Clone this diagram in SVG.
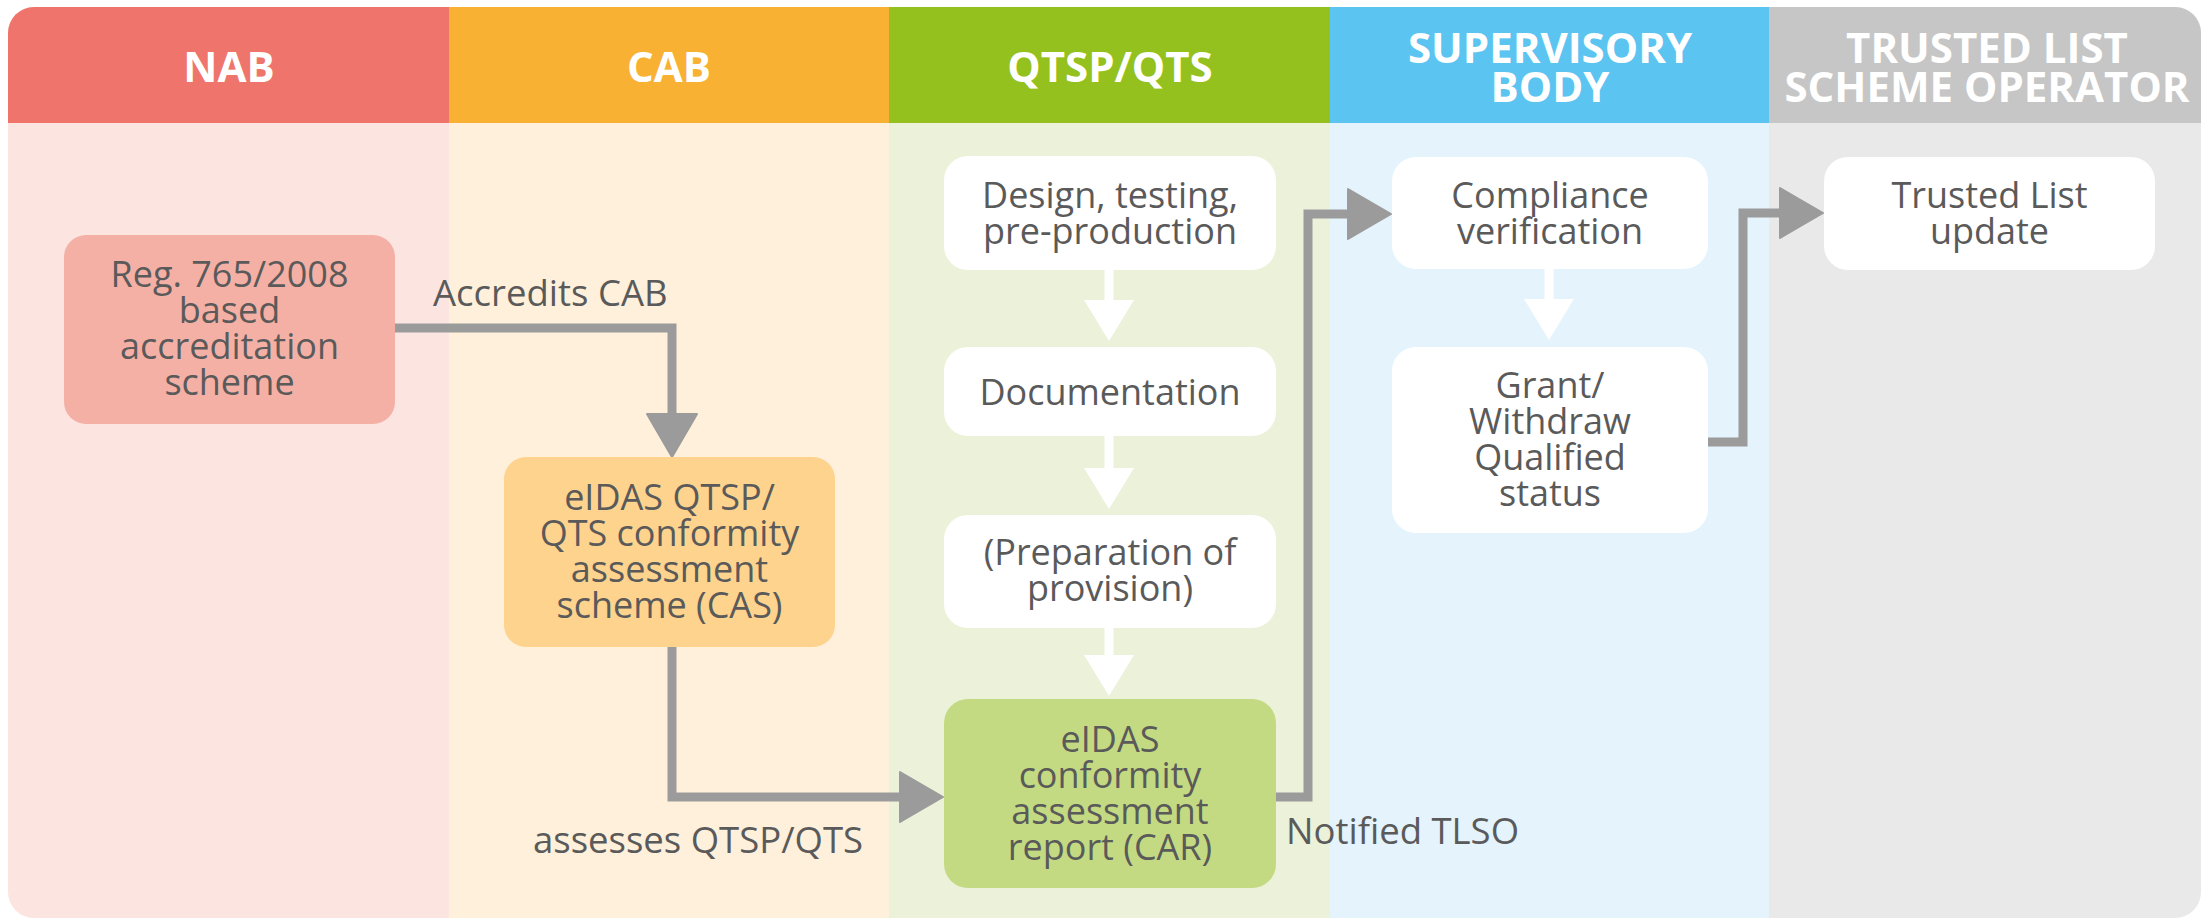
<svg xmlns="http://www.w3.org/2000/svg" width="2202" height="919" viewBox="0 0 2202 919">
<style>
.hd{font-family:"Open Sans","Liberation Sans",sans-serif;font-weight:bold;font-size:42px;fill:#ffffff;text-anchor:middle}
.tx{font-family:"Open Sans","Liberation Sans",sans-serif;font-size:36px;fill:#5a5a5a;text-anchor:middle}
.lb{font-family:"Open Sans","Liberation Sans",sans-serif;font-size:36.5px;fill:#5a5a5a}
.gl{fill:none;stroke:#9b9b9b;stroke-width:9;stroke-linejoin:miter}
.wl{fill:none;stroke:#ffffff;stroke-width:9}
.box{fill:#ffffff}
</style>
<defs>
<clipPath id="frame"><rect x="8" y="7" width="2193" height="911" rx="26" ry="26"/></clipPath>
<marker id="ga" markerUnits="userSpaceOnUse" markerWidth="45" markerHeight="52" viewBox="-1 -1 45 52" refX="33" refY="25" orient="auto"><path d="M0,0 L43,25 L0,50 Z" fill="#9b9b9b" stroke="#9b9b9b" stroke-width="2" stroke-linejoin="round"/></marker>
<marker id="wa" markerUnits="userSpaceOnUse" markerWidth="43" markerHeight="52" viewBox="0 -1 43 52" refX="31" refY="25" orient="auto"><path d="M0,0 L41,25 L0,50 Z" fill="#ffffff"/></marker>
</defs>
<rect width="2202" height="919" fill="#ffffff"/>
<g id="lanes" clip-path="url(#frame)">
<rect x="8" y="7" width="441" height="911" fill="#fce4e0"/>
<rect x="449" y="7" width="440" height="911" fill="#fef0db"/>
<rect x="889" y="7" width="441" height="911" fill="#ecf1da"/>
<rect x="1330" y="7" width="439" height="911" fill="#e4f3fc"/>
<rect x="1769" y="7" width="433" height="911" fill="#e9e9e9"/>
<rect x="8" y="7" width="441" height="116" fill="#ee746c"/>
<rect x="449" y="7" width="440" height="116" fill="#f8b133"/>
<rect x="889" y="7" width="441" height="116" fill="#95c11f"/>
<rect x="1330" y="7" width="439" height="116" fill="#5bc4f1"/>
<rect x="1769" y="7" width="433" height="116" fill="#c6c6c6"/>
</g>
<g id="headers">
<text class="hd" x="229" y="82">NAB</text>
<text class="hd" x="669" y="82">CAB</text>
<text class="hd" x="1110" y="82">QTSP/QTS</text>
<text class="hd" x="1550" y="63">SUPERVISORY</text>
<text class="hd" x="1550" y="102">BODY</text>
<text class="hd" x="1987" y="63">TRUSTED LIST</text>
<text class="hd" x="1987" y="102">SCHEME OPERATOR</text>
</g>
<g id="connectors">
<path class="gl" d="M395,328 H672 V447" marker-end="url(#ga)"/>
<path class="gl" d="M672,647 V797 H933" marker-end="url(#ga)"/>
<path class="gl" d="M1276,797 H1308 V214 H1381" marker-end="url(#ga)"/>
<path class="gl" d="M1708,442 H1743 V213 H1813" marker-end="url(#ga)"/>
<path class="wl" d="M1109,270 V331" marker-end="url(#wa)"/>
<path class="wl" d="M1109,436 V499" marker-end="url(#wa)"/>
<path class="wl" d="M1109,628 V686" marker-end="url(#wa)"/>
<path class="wl" d="M1549,269 V330" marker-end="url(#wa)"/>
<text class="lb" x="433" y="306">Accredits CAB</text>
<text class="lb" x="533" y="853">assesses QTSP/QTS</text>
<text class="lb" x="1286" y="844">Notified TLSO</text>
</g>
<g id="reg">
<rect x="64" y="235" width="331" height="189" rx="22" fill="#f5b0a6"/>
<text class="tx" x="229.5" y="287">Reg. 765/2008</text>
<text class="tx" x="229.5" y="323">based</text>
<text class="tx" x="229.5" y="359">accreditation</text>
<text class="tx" x="229.5" y="395">scheme</text>
</g>
<g id="cas">
<rect x="504" y="457" width="331" height="190" rx="22" fill="#fdd38e"/>
<text class="tx" x="669.5" y="510">eIDAS QTSP/</text>
<text class="tx" x="669.5" y="546">QTS conformity</text>
<text class="tx" x="669.5" y="582">assessment</text>
<text class="tx" x="669.5" y="618">scheme (CAS)</text>
</g>
<g id="design">
<rect class="box" x="944" y="156" width="332" height="114" rx="24"/>
<text class="tx" x="1110" y="208">Design, testing,</text>
<text class="tx" x="1110" y="244">pre-production</text>
</g>
<g id="documentation">
<rect class="box" x="944" y="347" width="332" height="89" rx="24"/>
<text class="tx" x="1110" y="405">Documentation</text>
</g>
<g id="preparation">
<rect class="box" x="944" y="515" width="332" height="113" rx="24"/>
<text class="tx" x="1110" y="565">(Preparation of</text>
<text class="tx" x="1110" y="601">provision)</text>
</g>
<g id="car">
<rect x="944" y="699" width="332" height="189" rx="24" fill="#c4da82"/>
<text class="tx" x="1110" y="752">eIDAS</text>
<text class="tx" x="1110" y="788">conformity</text>
<text class="tx" x="1110" y="824">assessment</text>
<text class="tx" x="1110" y="860">report (CAR)</text>
</g>
<g id="compliance">
<rect class="box" x="1392" y="157" width="316" height="112" rx="24"/>
<text class="tx" x="1550" y="208">Compliance</text>
<text class="tx" x="1550" y="244">verification</text>
</g>
<g id="grant">
<rect class="box" x="1392" y="347" width="316" height="186" rx="24"/>
<text class="tx" x="1550" y="398">Grant/</text>
<text class="tx" x="1550" y="434">Withdraw</text>
<text class="tx" x="1550" y="470">Qualified</text>
<text class="tx" x="1550" y="506">status</text>
</g>
<g id="tlupdate">
<rect class="box" x="1824" y="157" width="331" height="113" rx="24"/>
<text class="tx" x="1989.5" y="208">Trusted List</text>
<text class="tx" x="1989.5" y="244">update</text>
</g>
</svg>
